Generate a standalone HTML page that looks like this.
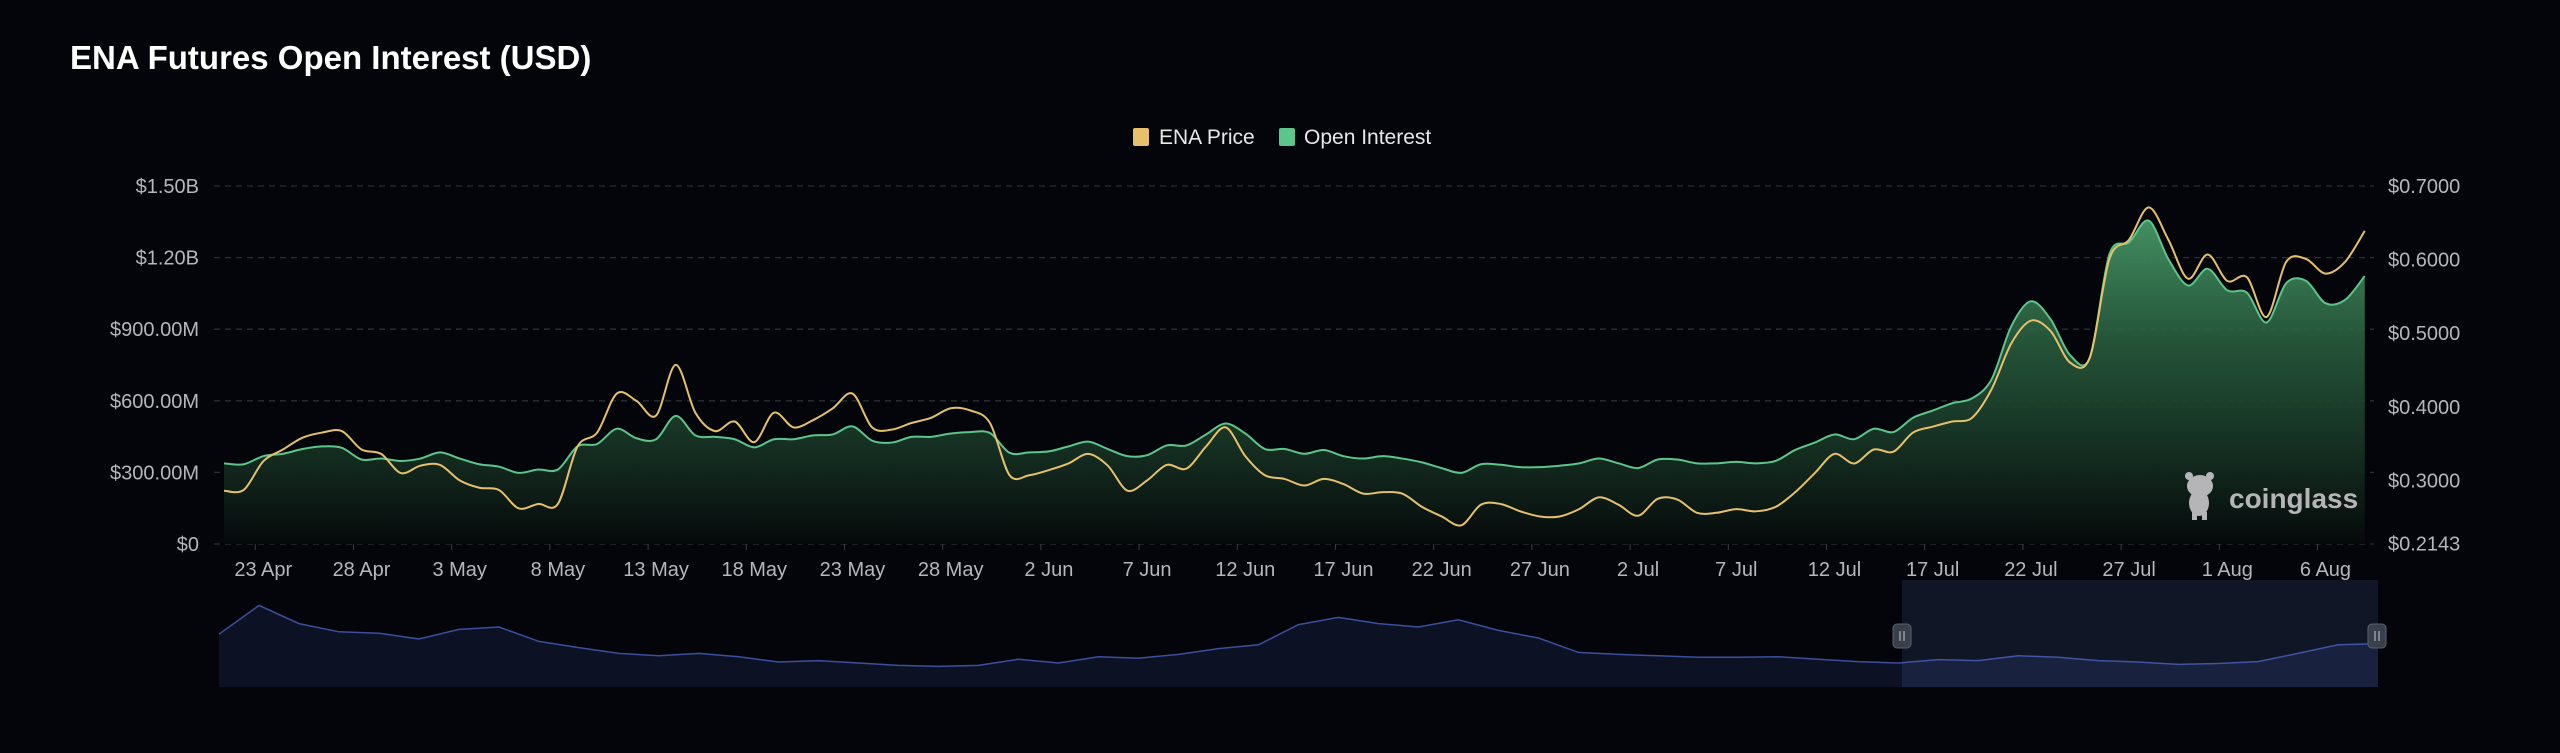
<!DOCTYPE html>
<html><head><meta charset="utf-8"><style>
html,body{margin:0;padding:0;background:#04050a;}
body{width:2560px;height:753px;overflow:hidden;font-family:"Liberation Sans",sans-serif;}
svg{position:absolute;left:0;top:0;}
</style></head><body>
<svg id="chart" width="2560" height="753">
<defs>
<linearGradient id="oiFill" gradientUnits="userSpaceOnUse" x1="0" y1="186" x2="0" y2="544">
<stop offset="0" stop-color="#4fa872" stop-opacity="0.95"/>
<stop offset="0.45" stop-color="#275a3c" stop-opacity="0.9"/>
<stop offset="1" stop-color="#05090a" stop-opacity="1"/>
</linearGradient>
</defs>
<text x="70" y="69" fill="#ffffff" font-size="33" font-weight="bold">ENA Futures Open Interest (USD)</text>
<g>
<rect x="1133" y="128" width="16" height="18" rx="2" fill="#e6c06a"/>
<text x="1159" y="144" fill="#e8e8ea" font-size="21">ENA Price</text>
<rect x="1279" y="128" width="16" height="18" rx="2" fill="#5cc58a"/>
<text x="1304" y="144" fill="#e8e8ea" font-size="21">Open Interest</text>
</g>
<g id="grid"></g>
<g id="marks"></g>
<g id="axes"></g>
<g>
<g fill="#b5b5b8">
<ellipse cx="2200" cy="486" rx="13" ry="11"/>
<ellipse cx="2199" cy="503" rx="10" ry="13"/>
<circle cx="2189" cy="476" r="4"/><circle cx="2210" cy="476" r="4"/>
<rect x="2192" y="512" width="5" height="8"/><rect x="2202" y="512" width="5" height="8"/>
</g>
<text x="2229" y="508" fill="#b5b5b8" font-size="28" font-weight="bold">coinglass</text>
</g>
<g id="nav"></g>
</svg>
<script>
const dates = ["23 Apr","28 Apr","3 May","8 May","13 May","18 May","23 May","28 May","2 Jun","7 Jun","12 Jun","17 Jun","22 Jun","27 Jun","2 Jul","7 Jul","12 Jul","17 Jul","22 Jul","27 Jul","1 Aug","6 Aug"];
const leftTicks = [0,300,600,900,1200,1500];
const leftTickLabels = ["$0","$300.00M","$600.00M","$900.00M","$1.20B","$1.50B"];
const rightTicks = [0.2143,0.3,0.4,0.5,0.6,0.7];
const rightTickLabels = ["$0.2143","$0.3000","$0.4000","$0.5000","$0.6000","$0.7000"];
const openInterest = [338,334,368,378,398,409,403,354,358,348,358,384,358,334,324,298,312,312,409,419,483,443,439,537,455,449,439,405,439,439,455,459,493,433,425,449,449,463,469,465,382,384,388,409,429,398,368,372,413,413,459,505,463,398,398,378,394,368,358,368,358,342,318,298,334,332,322,322,328,338,358,338,318,354,354,338,338,344,338,348,394,425,459,439,483,469,529,559,590,610,690,912,1017,942,791,781,1214,1264,1355,1194,1083,1153,1063,1053,928,1093,1103,1009,1023,1123];
const price = [0.286,0.287,0.326,0.342,0.358,0.365,0.367,0.342,0.336,0.310,0.320,0.321,0.300,0.290,0.287,0.262,0.268,0.268,0.346,0.365,0.418,0.408,0.388,0.457,0.392,0.367,0.380,0.352,0.392,0.372,0.382,0.398,0.418,0.372,0.369,0.378,0.385,0.398,0.395,0.378,0.307,0.307,0.314,0.323,0.336,0.320,0.286,0.300,0.321,0.316,0.346,0.372,0.333,0.307,0.302,0.293,0.302,0.295,0.282,0.284,0.282,0.264,0.251,0.239,0.267,0.268,0.258,0.251,0.251,0.261,0.277,0.267,0.252,0.275,0.274,0.256,0.256,0.261,0.258,0.264,0.284,0.310,0.336,0.323,0.342,0.339,0.365,0.373,0.380,0.385,0.424,0.486,0.517,0.503,0.460,0.467,0.601,0.627,0.671,0.627,0.574,0.607,0.571,0.576,0.522,0.597,0.601,0.581,0.597,0.639];
const navValues = [110,170,132,115,112,100,120,125,95,82,70,65,70,63,52,55,50,45,43,45,58,50,63,60,68,80,88,130,145,132,125,140,118,102,72,68,65,62,62,63,58,53,50,57,55,65,62,55,52,47,49,53,70,88,90];

const NS="http://www.w3.org/2000/svg";
const PL=224, PR=2374, X0=224, DAY=19.64, YB=544, YT=186;
const xDay = d => X0 + d*DAY;
const yL = v => YB - v/1500*(YB-YT);
const yR = v => 186 + (0.7-v)*736;
function mk(tag, attrs, parent){const e=document.createElementNS(NS,tag);for(const k in attrs)e.setAttribute(k,attrs[k]);parent.appendChild(e);return e;}
function smooth(pts){let d="M"+pts[0][0]+","+pts[0][1];for(let i=0;i<pts.length-1;i++){const p0=pts[i-1]||pts[i],p1=pts[i],p2=pts[i+1],p3=pts[i+2]||p2;const t=0.16;d+=" C"+(p1[0]+(p2[0]-p0[0])*t)+","+(p1[1]+(p2[1]-p0[1])*t)+" "+(p2[0]-(p3[0]-p1[0])*t)+","+(p2[1]-(p3[1]-p1[1])*t)+" "+p2[0]+","+p2[1];}return d;}
const grid=document.getElementById('grid'), marks=document.getElementById('marks'), axes=document.getElementById('axes'), nav=document.getElementById('nav');
leftTicks.forEach((v,i)=>{
  const g=mk('line',{x1:214,x2:PR,y1:yL(v),y2:yL(v),stroke:'#2b2e35','stroke-width':1.3,'stroke-dasharray':'6 5'},grid);
  
  
  const t=mk('text',{x:199,y:yL(v)+7,fill:'#b4b7bd','font-size':20,'text-anchor':'end'},axes);
  t.textContent=leftTickLabels[i];
  
  
});
rightTicks.forEach((v,i)=>{
  const t=mk('text',{x:2388,y:yR(v)+7,fill:'#b4b7bd','font-size':20},axes);
  t.textContent=rightTickLabels[i];
  
  
});
dates.forEach((s,i)=>{
  const d=2+i*5;
  const tk=mk('line',{x1:xDay(d)-8,x2:xDay(d)-8,y1:YB,y2:YB+6,stroke:'#3a3d44'},axes);
  
  
  const t=mk('text',{x:xDay(d),y:576,fill:'#b4b7bd','font-size':20,'text-anchor':'middle'},axes);
  t.textContent=s;
  
  
});
const oiPts=openInterest.map((v,i)=>[xDay(i),yL(v)]);
const oiLine=smooth(oiPts);
const area=mk('path',{d:oiLine+" L"+xDay(openInterest.length-1)+","+YB+" L"+X0+","+YB+" Z",fill:'url(#oiFill)'},marks);


const ol=mk('path',{d:oiLine,fill:'none',stroke:'#5cc58a','stroke-width':2},marks);


const pl=mk('path',{d:smooth(price.map((v,i)=>[xDay(i),yR(v)])),fill:'none',stroke:'#e6c06a','stroke-width':2},marks);


const NX0=219, NX1=2378, NB=687;
const nStep=(NX1-NX0)/(navValues.length-1);
const nPts=navValues.map((v,i)=>[NX0+i*nStep, NB-v*0.48]);
let nd="M"+nPts.map(p=>p[0].toFixed(1)+","+p[1].toFixed(1)).join(" L");
const na=mk('path',{d:nd+" L"+NX1+","+NB+" L"+NX0+","+NB+" Z",fill:'#0c1224'},nav);


const nl=mk('path',{d:nd,fill:'none',stroke:'#3c4f9e','stroke-width':1.5},nav);


const sel=mk('rect',{x:1902,y:580,width:NX1-1902,height:NB-580,fill:'#5a70c0','fill-opacity':0.16},nav);


[1902,2377].forEach((x,i)=>{
  const h=mk('rect',{x:x-9,y:624,width:18,height:24,rx:4,fill:'#3a3f4c',stroke:'#5a5f6c'},nav);
  
  
  mk('line',{x1:x-2,x2:x-2,y1:631,y2:641,stroke:'#c8c8cc'},nav);
  mk('line',{x1:x+2,x2:x+2,y1:631,y2:641,stroke:'#c8c8cc'},nav);
});
</script>
</body></html>
